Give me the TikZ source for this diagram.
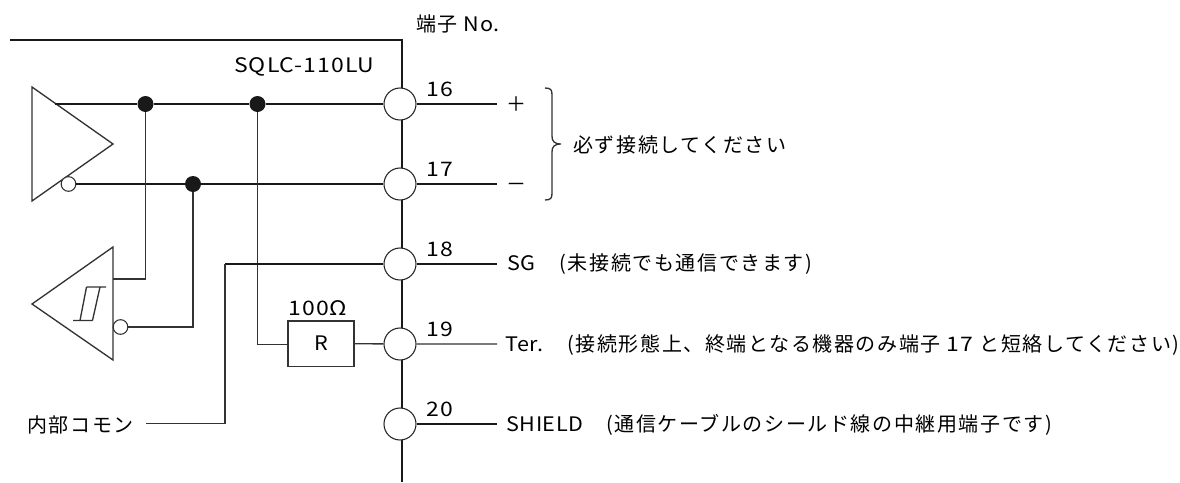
\documentclass[tikz,border=0pt]{standalone}
\usepackage{fontspec}
\setmainfont[LetterSpace=8]{Noto Sans CJK JP}
\newfontfamily\latfont[FakeStretch=1.08,LetterSpace=3]{Noto Sans CJK JP}
\newfontfamily\numfont[FakeStretch=1.15,LetterSpace=5]{Noto Sans CJK JP}
\begin{document}
\begin{tikzpicture}[x=0.75pt,y=-0.75pt,font=\fontsize{15}{17}\selectfont,
	wire/.style={line width=1.5pt,black!90},
	thinwire/.style={line width=1pt,black!80},
	term/.style={circle,draw=black!85,line width=0.8pt,fill=white,minimum size=24pt,inner sep=0pt},
	dot/.style={circle,fill=black!90,minimum size=12pt,inner sep=0pt},
	bubble/.style={circle,draw=black!80,line width=0.8pt,fill=white,minimum size=11pt,inner sep=0pt},
	lbl/.style={anchor=west,inner sep=0pt,text height=13pt,text depth=2pt}]
	\useasboundingbox (0,0) rectangle (1180,482);
	% buffers
	\draw[thinwire,line join=miter] (32,87)--(113,144)--(32,201)--cycle;
	\draw[thinwire,line join=miter] (113,247)--(32,304)--(113,360)--cycle;
	\draw[thinwire] (86.5,287)--(106,287) (86.5,287)--(80,320.5) (100,287)--(92.5,320.5) (73,320.5)--(92.5,320.5);
	% rail
	\coordinate (railtop) at (402,40);
	\coordinate (railend) at (402,482);
	\coordinate (caseend) at (10,40);
	\coordinate (ampplus) at (55,104);
	\draw[wire] (caseend)--(railtop)--(railend);
	% terminals
	\foreach \n/\y in {16/104,17/184,18/264,19/344,20/424}{
		\node[term] (t\n) at (400,\y) {};
		\coordinate (e\n) at (497,\y);
		\node[lbl] (n\n) at (426,\y-14.5) {\numfont\n};
	}
	\node[bubble] (ampminus) at (68.5,184) {};
	\node[bubble] (recvminus) at (120.5,327) {};
	\coordinate (recvplus) at (113,279);
	\node[dot] (da) at (145.5,104) {};
	\node[dot] (db) at (257.5,104) {};
	\node[dot] (dc) at (193,184) {};
	\node[draw=black!80,line width=1pt,minimum width=49.5pt,minimum height=34pt,inner sep=0pt] (res) at (321,343.5) {\latfont R};
	\node[lbl,anchor=center] (resval) at (318,308) {\numfont 100Ω};
	% wires
	\draw[wire] (ampplus)--(da)--(db)--(t16)--(e16);
	\draw[wire] (ampminus)--(dc)--(t17)--(e17);
	\draw[wire] (t18)--(e18) (t20)--(e20);
	\draw[thinwire] (t19)--(e19) (res)--(t19);
	\draw[thinwire] (da)--(145.5,279)--(recvplus);
	\draw[thinwire] (dc)--(193,327)--(recvminus);
	\draw[thinwire] (db)--(257.5,344.5)--(res.west |- 0,344.5);
	\node[lbl] (common) at (27,425) {内部コモン};
	\draw[wire] (t18)--(225,264);
	\draw[thinwire] (225,264)--(225,423.5)--(146,423.5);
	% brace
	\draw[thinwire] (545,88) .. controls (551,88) and (552,90) .. (552,95)--(552,136) .. controls (552,141) and (554,144) .. (561,144) .. controls (554,144) and (552,147) .. (552,152)--(552,193) .. controls (552,198) and (551,200) .. (545,200);
	% texts
	\node[lbl] (head) at (416,24) {端子 {\latfont No.}};
	\node[lbl] (model) at (234,65) {\numfont SQLC-110LU};
	\node[lbl] (plus) at (506,104) {＋};
	\node[lbl] (minus) at (506,184) {－};
	\node[lbl] (must) at (573,145) {必ず接続してください};
	\node[lbl] (sg) at (507,263.5) {{\latfont SG}\hspace*{18pt}(未接続でも通信できます)};
	\node[lbl] (ter) at (505,344) {{\latfont Ter.}\hspace*{18pt}(接続形態上、終端となる機器のみ端子 {\numfont 17} と短絡してください)};
	\node[lbl] (shield) at (506,424.5) {{\latfont SHIELD}\hspace*{17pt}(通信ケーブルのシールド線の中継用端子です)};
\end{tikzpicture}
\end{document}
